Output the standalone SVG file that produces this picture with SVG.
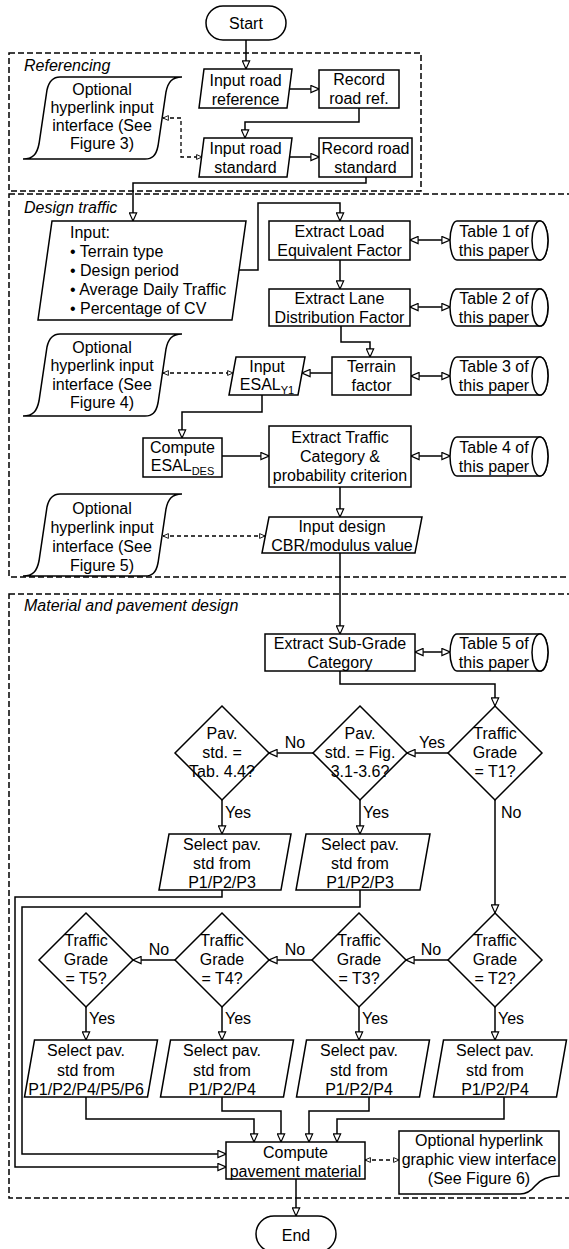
<svg xmlns="http://www.w3.org/2000/svg" xmlns:xlink="http://www.w3.org/1999/xlink" width="569" height="1249" viewBox="0 0 569 1249">
<style>
text{font-family:"Liberation Sans",Arial,sans-serif;font-size:16px;fill:#000}
.c{text-anchor:middle}
.lbl{font-style:italic}
.sh{fill:#fff;stroke:#000;stroke-width:1.5}
.grp{fill:none;stroke:#000;stroke-width:1.5;stroke-dasharray:6 3}
.ln{fill:none;stroke:#000;stroke-width:1.5}
.ar{marker-end:url(#ah)}
.bi{marker-start:url(#ah);marker-end:url(#ah)}
.dl{fill:none;stroke:#000;stroke-width:1.3;stroke-dasharray:4 3;marker-start:url(#ahs);marker-end:url(#ahs)}
</style>
<defs>
<marker id="ah" viewBox="0 0 10 10" refX="10" refY="5" markerWidth="9" markerHeight="9" markerUnits="userSpaceOnUse" orient="auto-start-reverse"><path d="M1,1 L10,5 L1,9 Z" fill="#fff" stroke="#000" stroke-width="1.3"/></marker>
<marker id="ahs" viewBox="0 0 10 10" refX="10" refY="5" markerWidth="6" markerHeight="6" markerUnits="userSpaceOnUse" orient="auto-start-reverse"><path d="M1,1 L10,5 L1,9 Z" fill="#fff" stroke="#000" stroke-width="1.5"/></marker>
<path id="opt" d="M60,0 L182,0 C172,0 168,5 166,15 L158,69 C156,79 152,82 145,82 L23,82 C33,82 37,77 39,67 L47,13 C49,4 53,0 60,0 Z"/>
</defs>

<g id="groups">
<rect class="grp" x="9" y="53" width="412" height="138"/>
<text class="lbl" x="24" y="71">Referencing</text>
<rect class="grp" x="9" y="194" width="600" height="383"/>
<text class="lbl" x="24" y="213">Design traffic</text>
<rect class="grp" x="9" y="594" width="600" height="604"/>
<text class="lbl" x="24" y="611">Material and pavement design</text>
</g>

<g id="connectors">
<path class="ln ar" d="M246,40 V69"/>
<path class="ln ar" d="M289,89 H319"/>
<path class="ln ar" d="M359,108 V122 H245 V138"/>
<path class="ln ar" d="M289,157 H319"/>
<path class="dl" d="M163,118 H181 V157 H202"/>
<path class="ln ar" d="M366,177 V183 H133 V221"/>
<path class="ln ar" d="M239,270 H258 V203 H340 V221"/>
<path class="ln bi" d="M410,240 H450"/>
<path class="ln ar" d="M340,260 V289"/>
<path class="ln bi" d="M410,307 H450"/>
<path class="ln ar" d="M341,326 V342 H370 V357"/>
<path class="ln bi" d="M411,376 H450"/>
<path class="ln ar" d="M332,373 H302"/>
<path class="dl" d="M163,373 H233"/>
<path class="ln ar" d="M262,395 V412 H182 V438"/>
<path class="ln ar" d="M222,456 H269"/>
<path class="ln bi" d="M411,456 H450"/>
<path class="ln ar" d="M340,487 V517"/>
<path class="dl" d="M163,536 H265"/>
<path class="ln ar" d="M340,553 V634"/>
<path class="ln bi" d="M415,652 H450"/>
<path class="ln ar" d="M340,671 V684 H495 V706"/>
<path class="ln ar" d="M448,753 H407"/>
<path class="ln ar" d="M313,753 H269"/>
<path class="ln ar" d="M222,800 V834"/>
<path class="ln ar" d="M360,800 V834"/>
<path class="ln ar" d="M495,800 V913"/>
<path class="ln ar" d="M448,960 H406"/>
<path class="ln ar" d="M312,960 H269"/>
<path class="ln ar" d="M175,960 H133"/>
<path class="ln ar" d="M86,1007 V1040"/>
<path class="ln ar" d="M222,1007 V1040"/>
<path class="ln ar" d="M359,1007 V1040"/>
<path class="ln ar" d="M495,1007 V1040"/>
<path class="ln ar" d="M222,890 V897 H15 V1167 H226"/>
<path class="ln ar" d="M360,890 V907 H22 V1154 H226"/>
<path class="ln ar" d="M86,1097 V1119 H254 V1142"/>
<path class="ln ar" d="M222,1097 V1111 H281 V1142"/>
<path class="ln ar" d="M369,1097 V1111 H309 V1142"/>
<path class="ln ar" d="M504,1097 V1119 H337 V1142"/>
<path class="dl" d="M365,1160 H399"/>
<path class="ln ar" d="M296,1179 V1216"/>
<text class="c" x="432" y="748">Yes</text>
<text class="c" x="295" y="748">No</text>
<text x="225" y="818">Yes</text>
<text x="363" y="818">Yes</text>
<text x="501" y="818">No</text>
<text class="c" x="431" y="955">No</text>
<text class="c" x="295" y="955">No</text>
<text class="c" x="159" y="955">No</text>
<text x="89" y="1024">Yes</text>
<text x="225" y="1024">Yes</text>
<text x="362" y="1024">Yes</text>
<text x="498" y="1024">Yes</text>
</g>

<g id="start"><rect class="sh" x="206" y="6" width="80" height="34" rx="17"/><text class="c" x="246" y="28.5">Start</text></g>

<g id="opt3"><use xlink:href="#opt" class="sh" x="0" y="77"/>
<text class="c" x="102" y="95">Optional</text><text class="c" x="102" y="113">hyperlink input</text><text class="c" x="102" y="131">interface (See</text><text class="c" x="102" y="149">Figure 3)</text></g>

<g id="inref"><polygon class="sh" points="204,69 292,69 287,108 199,108"/><text class="c" x="245.5" y="85.5">Input road</text><text class="c" x="245.5" y="104.5">reference</text></g>
<g id="recref"><rect class="sh" x="319" y="70" width="80" height="38"/><text class="c" x="359" y="85">Record</text><text class="c" x="359" y="104">road ref.</text></g>
<g id="instd"><polygon class="sh" points="204,138 292,138 287,177 199,177"/><text class="c" x="245.5" y="153.5">Input road</text><text class="c" x="245.5" y="172.5">standard</text></g>
<g id="recstd"><rect class="sh" x="319" y="138" width="93" height="39"/><text class="c" x="365.5" y="153.5">Record road</text><text class="c" x="365.5" y="172.5">standard</text></g>

<g id="input"><polygon class="sh" points="52,221 246,221 232,320 38,320"/>
<text x="70" y="237.5">Input:</text>
<text x="70" y="256.5">• Terrain type</text>
<text x="70" y="275.5">• Design period</text>
<text x="70" y="294.5">• Average Daily Traffic</text>
<text x="70" y="313.5">• Percentage of CV</text></g>

<g id="lef"><rect class="sh" x="269" y="221" width="141" height="39"/><text class="c" x="339.5" y="236.5">Extract Load</text><text class="c" x="339.5" y="255.5">Equivalent Factor</text></g>
<g id="tab1"><path class="sh" d="M457,221 H540 A8,19.5 0 0 1 540,260 H457 A7,19.5 0 0 1 457,221 Z"/><ellipse class="sh" cx="540" cy="240.5" rx="8" ry="19.5"/><text class="c" x="494" y="236.5">Table 1 of</text><text class="c" x="494" y="255.5">this paper</text></g>

<g id="ldf"><rect class="sh" x="269" y="289" width="141" height="37"/><text class="c" x="339.5" y="303.5">Extract Lane</text><text class="c" x="339.5" y="322.5">Distribution Factor</text></g>
<g id="tab2"><path class="sh" d="M457,289 H540 A8,18.5 0 0 1 540,326 H457 A7,18.5 0 0 1 457,289 Z"/><ellipse class="sh" cx="540" cy="307.5" rx="8" ry="18.5"/><text class="c" x="494" y="303.5">Table 2 of</text><text class="c" x="494" y="322.5">this paper</text></g>

<g id="terrain"><rect class="sh" x="332" y="357" width="79" height="38"/><text class="c" x="371.5" y="372">Terrain</text><text class="c" x="371.5" y="391">factor</text></g>
<g id="tab3"><path class="sh" d="M457,357 H540 A8,19 0 0 1 540,395 H457 A7,19 0 0 1 457,357 Z"/><ellipse class="sh" cx="540" cy="376" rx="8" ry="19"/><text class="c" x="494" y="372">Table 3 of</text><text class="c" x="494" y="391">this paper</text></g>

<g id="esaly1"><polygon class="sh" points="236,357 305,357 298,395 229,395"/><text class="c" x="267" y="371.5">Input</text><text class="c" x="267" y="390">ESAL<tspan font-size="11" dy="4">Y1</tspan></text></g>

<g id="opt4"><use xlink:href="#opt" class="sh" x="0" y="334"/>
<text class="c" x="102" y="352.5">Optional</text><text class="c" x="102" y="371">hyperlink input</text><text class="c" x="102" y="389.5">interface (See</text><text class="c" x="102" y="408">Figure 4)</text></g>

<g id="esaldes"><rect class="sh" x="143" y="438" width="79" height="39"/><text class="c" x="182.5" y="453">Compute</text><text class="c" x="182.5" y="471">ESAL<tspan font-size="11" dy="4">DES</tspan></text></g>

<g id="etc"><rect class="sh" x="269" y="426" width="142" height="61"/><text class="c" x="340" y="443">Extract Traffic</text><text class="c" x="340" y="462">Category &amp;</text><text class="c" x="340" y="481">probability criterion</text></g>
<g id="tab4"><path class="sh" d="M457,437 H540 A8,19.5 0 0 1 540,476 H457 A7,19.5 0 0 1 457,437 Z"/><ellipse class="sh" cx="540" cy="456.5" rx="8" ry="19.5"/><text class="c" x="494" y="452.5">Table 4 of</text><text class="c" x="494" y="471.5">this paper</text></g>

<g id="opt5"><use xlink:href="#opt" class="sh" x="0" y="494"/>
<text class="c" x="102" y="513.5">Optional</text><text class="c" x="102" y="532.5">hyperlink input</text><text class="c" x="102" y="551.5">interface (See</text><text class="c" x="102" y="570.5">Figure 5)</text></g>

<g id="cbr"><polygon class="sh" points="269,517 422,517 415,553 262,553"/><text class="c" x="342" y="532">Input design</text><text class="c" x="342" y="551">CBR/modulus value</text></g>

<g id="subgrade"><rect class="sh" x="265" y="634" width="150" height="37"/><text class="c" x="340" y="648.5">Extract Sub-Grade</text><text class="c" x="340" y="667.5">Category</text></g>
<g id="tab5"><path class="sh" d="M457,634 H540 A8,18.5 0 0 1 540,671 H457 A7,18.5 0 0 1 457,634 Z"/><ellipse class="sh" cx="540" cy="652.5" rx="8" ry="18.5"/><text class="c" x="494" y="648.5">Table 5 of</text><text class="c" x="494" y="667.5">this paper</text></g>

<g id="t1"><polygon class="sh" points="495,706 542,753 495,800 448,753"/><text class="c" x="495" y="739">Traffic</text><text class="c" x="495" y="758">Grade</text><text class="c" x="495" y="777">= T1?</text></g>
<g id="fig"><polygon class="sh" points="360,706 407,753 360,800 313,753"/><text class="c" x="360" y="739">Pav.</text><text class="c" x="360" y="758">std. = Fig.</text><text class="c" x="360" y="777">3.1-3.6?</text></g>
<g id="tab"><polygon class="sh" points="222,706 269,753 222,800 175,753"/><text class="c" x="222" y="739">Pav.</text><text class="c" x="222" y="758">std. =</text><text class="c" x="222" y="777">Tab. 4.4?</text></g>

<g id="sel1"><polygon class="sh" points="169,834 291,834 281,890 159,890"/><text class="c" x="222" y="850">Select pav.</text><text class="c" x="222" y="869">std from</text><text class="c" x="222" y="888">P1/P2/P3</text></g>
<g id="sel2"><polygon class="sh" points="306,834 430,834 420,890 296,890"/><text class="c" x="360" y="850">Select pav.</text><text class="c" x="360" y="869">std from</text><text class="c" x="360" y="888">P1/P2/P3</text></g>

<g id="t2"><polygon class="sh" points="495,913 542,960 495,1007 448,960"/><text class="c" x="495" y="946">Traffic</text><text class="c" x="495" y="965">Grade</text><text class="c" x="495" y="984">= T2?</text></g>
<g id="t3"><polygon class="sh" points="359,913 406,960 359,1007 312,960"/><text class="c" x="359" y="946">Traffic</text><text class="c" x="359" y="965">Grade</text><text class="c" x="359" y="984">= T3?</text></g>
<g id="t4"><polygon class="sh" points="222,913 269,960 222,1007 175,960"/><text class="c" x="222" y="946">Traffic</text><text class="c" x="222" y="965">Grade</text><text class="c" x="222" y="984">= T4?</text></g>
<g id="t5"><polygon class="sh" points="86,913 133,960 86,1007 39,960"/><text class="c" x="86" y="946">Traffic</text><text class="c" x="86" y="965">Grade</text><text class="c" x="86" y="984">= T5?</text></g>

<g id="sel5"><polygon class="sh" points="34.5,1040 157.5,1040 147.5,1097 24.5,1097"/><text class="c" x="86" y="1055.5">Select pav.</text><text class="c" x="86" y="1075.5">std from</text><text class="c" x="86" y="1095">P1/P2/P4/P5/P6</text></g>
<g id="sel4"><polygon class="sh" points="170.5,1040 293.5,1040 283.5,1097 160.5,1097"/><text class="c" x="222" y="1055.5">Select pav.</text><text class="c" x="222" y="1075.5">std from</text><text class="c" x="222" y="1095">P1/P2/P4</text></g>
<g id="sel3"><polygon class="sh" points="306.5,1040 429.5,1040 419.5,1097 296.5,1097"/><text class="c" x="359" y="1055.5">Select pav.</text><text class="c" x="359" y="1075.5">std from</text><text class="c" x="359" y="1095">P1/P2/P4</text></g>
<g id="sel6"><polygon class="sh" points="443.5,1040 566.5,1040 556.5,1097 433.5,1097"/><text class="c" x="495" y="1055.5">Select pav.</text><text class="c" x="495" y="1075.5">std from</text><text class="c" x="495" y="1095">P1/P2/P4</text></g>

<g id="compute"><rect class="sh" x="226" y="1142" width="139" height="37"/><text class="c" x="295.5" y="1157.5">Compute</text><text class="c" x="295.5" y="1177">pavement material</text></g>

<g id="opt6"><path class="sh" d="M399,1131 H559 V1176 C548,1176 540,1180 535,1186 C531,1191 527,1194 520,1194 H399 Z"/><text class="c" x="479" y="1145.5">Optional hyperlink</text><text class="c" x="479" y="1164.5">graphic view interface</text><text class="c" x="479" y="1183.5">(See Figure 6)</text></g>

<g id="end"><rect class="sh" x="256" y="1216" width="80" height="36" rx="18"/><text class="c" x="296" y="1240.5">End</text></g>
</svg>
